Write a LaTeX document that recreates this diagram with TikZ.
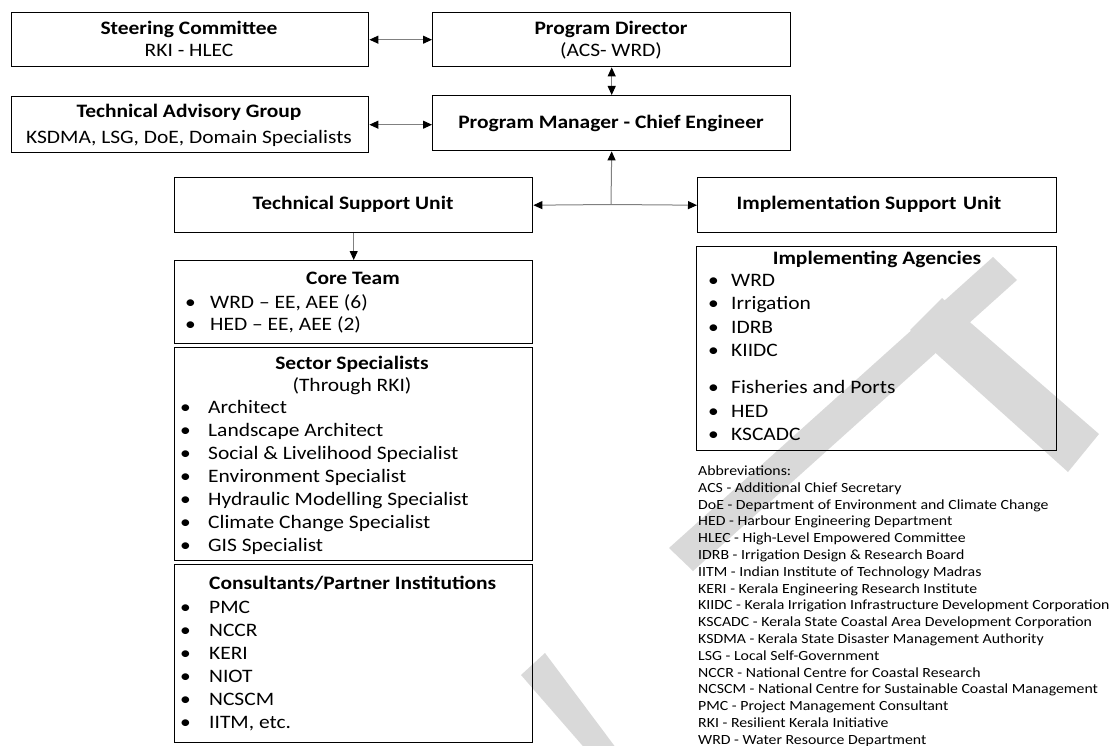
\documentclass[tikz,border=0pt]{standalone}
\usepackage{fontspec}
\setmainfont{Carlito}[FakeStretch=1.13]
\usetikzlibrary{arrows.meta}
\definecolor{wmgray}{RGB}{217,217,217}
\definecolor{linegray}{RGB}{128,128,128}
\newcommand{\bul}[2]{\llap{\makebox[#1][l]{\textbullet}}#2}
\begin{document}
\begin{tikzpicture}[x=1pt,y=-1pt,
  box/.style={draw=black, line width=1.4pt, rectangle, inner sep=0pt, anchor=north west},
  bt/.style={font=\bfseries\fontsize{19}{23}\selectfont, anchor=base, inner sep=0pt},
  rt/.style={font=\fontsize{19}{23}\selectfont, anchor=base, inner sep=0pt},
  btl/.style={font=\bfseries\fontsize{19}{23}\selectfont, anchor=base west, inner sep=0pt},
  item/.style={font=\fontsize{19}{23}\selectfont, anchor=base west, inner sep=0pt},
  abbr/.style={font=\fontsize{14}{16.8}\selectfont, anchor=base west, inner sep=0pt},
  conn/.style={draw=linegray, line width=1pt, >={Triangle[length=9pt,width=8pt,color=black]}},
  wm/.style={fill=wmgray, draw=none}
]
\useasboundingbox (0,0) rectangle (1111,746);
\clip (0,0) rectangle (1111,746);
% watermark (parts of a large diagonal "DRAFT")
\fill[wm] (669,548) -- (993,257) -- (1017,280) -- (693,571) -- cycle;
\fill[wm] (942,298) -- (1099,434) -- (1068,472) -- (910,330) -- cycle;
\fill[wm] (521,675) -- (545,653) -- (625,760) -- (595,760) -- cycle;

% boxes
\node[box, minimum width=357.3pt, minimum height=54pt] (sc) at (10.7,12) {};
\node[box, minimum width=358pt, minimum height=54pt] (pd) at (432,12) {};
\node[box, minimum width=357.3pt, minimum height=56pt] (tag) at (10.7,96) {};
\node[box, minimum width=358pt, minimum height=55pt] (pm) at (432,95) {};
\node[box, minimum width=358pt, minimum height=55pt] (tsu) at (174,177) {};
\node[box, minimum width=359pt, minimum height=55pt] (isu) at (697,177) {};
\node[box, minimum width=358pt, minimum height=83pt] (core) at (174,260) {};
\node[box, minimum width=358pt, minimum height=213pt] (sec) at (174,347) {};
\node[box, minimum width=358pt, minimum height=178pt] (cons) at (174,564) {};
\node[box, minimum width=360pt, minimum height=204pt] (ia) at (696,246) {};

% box texts
\node[bt] (sct) at (189,34.3) {Steering Committee};
\node[rt] (scs) at (189,56.3) {RKI - HLEC};
\node[bt] (pdt) at (611,34.5) {Program Director};
\node[rt] (pds) at (611,56.5) {(ACS- WRD)};
\node[bt] (tagt) at (189,118) {Technical Advisory Group};
\node[rt] (tags) at (189,143.8) {KSDMA, LSG, DoE, Domain Specialists};
\node[bt] (pmt) at (611,128.8) {Program Manager - Chief Engineer};
\node[bt] (tsut) at (353,209.6) {Technical Support Unit};
\node[bt] (isut) at (869,209.6) {Implementation Support\hspace{0.35em}Unit};

% core team
\node[bt] (coret) at (353,284.3) {Core Team};
\node[item] (core1) at (210,308.3) {\bul{25pt}{WRD – EE, AEE (6)}};
\node[item] (core2) at (210,330.3) {\bul{25pt}{HED – EE, AEE (2)}};

% sector specialists
\node[bt] (sect) at (352,369.3) {Sector Specialists};
\node[rt] (secs) at (352,391.3) {(Through RKI)};
\foreach \t [count=\i] in {Architect, Landscape Architect, Social \& Livelihood Specialist, Environment Specialist, Hydraulic Modelling Specialist, Climate Change Specialist, GIS Specialist}
  \node[item] (sec\i) at (208,{413.3+(\i-1)*23}) {\bul{28pt}{\t}};

% consultants
\node[btl] (const) at (209,589.3) {Consultants/Partner Institutions};
\foreach \t [count=\i] in {PMC, NCCR, KERI, NIOT, NCSCM, {IITM, etc.}}
  \node[item] (cons\i) at (209,{613.3+(\i-1)*23.1}) {\bul{29pt}{\t}};

% implementing agencies
\node[bt] (iat) at (877,264) {Implementing Agencies};
\foreach \t/\yy [count=\i] in {WRD/286.3, Irrigation/309.3, IDRB/333.3, KIIDC/356.3, Fisheries and Ports/393.3, HED/417.3, KSCADC/440.3}
  \node[item] (ia\i) at (731,\yy) {\bul{23pt}{\t}};

% abbreviations
\foreach \t [count=\i] in {Abbreviations:, ACS - Additional Chief Secretary, DoE - Department of Environment and Climate Change, HED - Harbour Engineering Department, HLEC - High-Level Empowered Committee, IDRB - Irrigation Design \& Research Board, IITM - Indian Institute of Technology Madras, KERI - Kerala Engineering Research Institute, KIIDC - Kerala Irrigation Infrastructure Development Corporation, KSCADC - Kerala State Coastal Area Development Corporation, KSDMA - Kerala State Disaster Management Authority, LSG - Local Self-Government, NCCR - National Centre for Coastal Research, NCSCM - National Centre for Sustainable Coastal Management, PMC - Project Management Consultant, RKI - Resilient Kerala Initiative, WRD - Water Resource Department}
  \node[abbr] (ab\i) at (698,{475.5+(\i-1)*16.8}) {\t};

% connectors
\draw[conn,<->] (sc.east) -- (pd.west);
\draw[conn,<->] (tag.east) -- (tag.east -| pm.west);
\draw[conn,<->] (pd.south) -- (pm.north);
\coordinate (j) at (611,204.5);
\draw[conn,->] (j) -- (pm.south);
\draw[conn,->] (j) -- (tsu.east);
\draw[conn,->] (j) -- (isu.west);
\draw[conn,->] (tsu.south) -- (core.north);
\end{tikzpicture}
\end{document}
